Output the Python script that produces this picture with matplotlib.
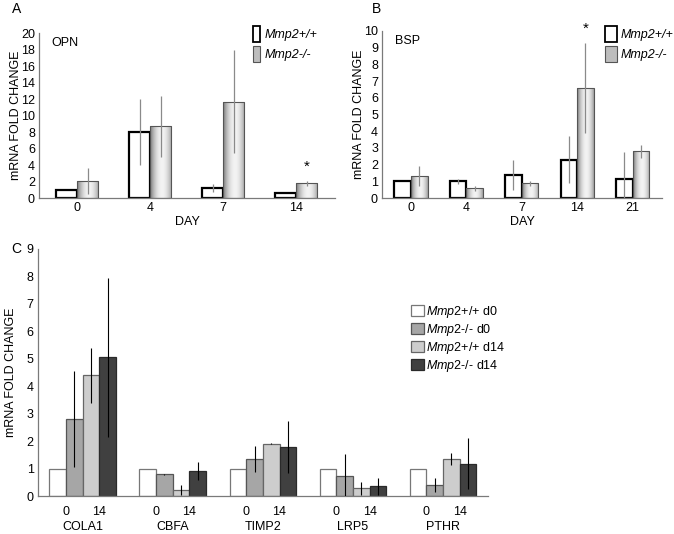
#Plot Mmp2 qPCR fold changes (OPN, BSP, marker panel)

import numpy as np
import matplotlib
matplotlib.use("Agg")
import matplotlib.pyplot as plt
from matplotlib.patches import Patch

plt.rcParams['font.family'] = 'Liberation Sans'
plt.rcParams['font.size'] = 9
plt.rcParams['mathtext.fontset'] = 'custom'
plt.rcParams['mathtext.it'] = 'Liberation Sans:italic'
plt.rcParams['mathtext.rm'] = 'Liberation Sans'

#panel A - OPN
opn_days = ['0', '4', '7', '14']
opn_wt = [1.0, 8.0, 1.2, 0.6]
opn_wt_err = [0, 4.0, 0.5, 0]
opn_ko = [2.1, 8.7, 11.7, 1.8]
opn_ko_err = [1.6, 3.7, 6.2, 0.3]
opn_star = [False, False, False, True]

#panel B - BSP
bsp_days = ['0', '4', '7', '14', '21']
bsp_wt = [1.0, 1.0, 1.4, 2.3, 1.15]
bsp_wt_err = [0, 0.15, 0.9, 1.4, 1.6]
bsp_ko = [1.35, 0.6, 0.9, 6.6, 2.8]
bsp_ko_err = [0.6, 0.15, 0.15, 2.7, 0.4]
bsp_star = [False, False, False, True, False]

#panel C - marker genes
genes = ['COLA1', 'CBFA', 'TIMP2', 'LRP5', 'PTHR']
wt_d0 = [1.0, 1.0, 1.0, 1.0, 1.0]
wt_d0_err = [0, 0, 0, 0, 0]
ko_d0 = [2.8, 0.8, 1.35, 0.72, 0.4]
ko_d0_err = [1.75, 0.02, 0.47, 0.8, 0.25]
wt_d14 = [4.4, 0.22, 1.9, 0.28, 1.34]
wt_d14_err = [1.0, 0.17, 0.02, 0.25, 0.22]
ko_d14 = [5.05, 0.92, 1.8, 0.35, 1.18]
ko_d14_err = [2.9, 0.32, 0.95, 0.3, 0.94]
c_labels = ['$\\mathit{Mmp2{+}/{+}}$ d0', '$\\mathit{Mmp2\u2010/\u2010}$ d0',
            '$\\mathit{Mmp2{+}/{+}}$ d14', '$\\mathit{Mmp2\u2010/\u2010}$ d14']
c_colors = ['white', '#a6a6a6', '#cdcdcd', '#404040']

fig = plt.figure(figsize=(6.74, 5.34), dpi=100)

t = np.linspace(0, 1, 64)
shade = 0.55 + 0.40 * (1 - (2 * t - 1.1) ** 2)


def style_axis(ax):
    for s in ['top', 'right']:
        ax.spines[s].set_visible(False)
    for s in ['left', 'bottom']:
        ax.spines[s].set_color('#7a7a7a')
        ax.spines[s].set_linewidth(0.9)
    ax.tick_params(length=0, pad=3)


def day_panel(ax, days, wt, wt_err, ko, ko_err, star, width, ymax, yticks, name, name_x, lab_x):
    x = np.arange(len(days))
    ax.bar(x - width / 2, wt, width, color='white', edgecolor='black', linewidth=1.6, zorder=2)
    kb = ax.bar(x + width / 2, ko, width, color='none', edgecolor='#555555', linewidth=0.8, zorder=3)
    for r in kb:
        img = ax.imshow(shade[None, :], cmap='gray', vmin=0, vmax=1, aspect='auto',
                        interpolation='bilinear',
                        extent=[r.get_x(), r.get_x() + r.get_width(), 0, r.get_height()], zorder=2)
        img.set_clip_path(r)
    ax.errorbar(x - width / 2, wt, yerr=wt_err, fmt='none', ecolor='#8a8a8a', elinewidth=0.9, zorder=4)
    ax.errorbar(x + width / 2, ko, yerr=ko_err, fmt='none', ecolor='#8a8a8a', elinewidth=0.9, zorder=4)
    for i in range(len(days)):
        if star[i]:
            ax.annotate('*', (x[i] + width / 2, ko[i] + ko_err[i]), xytext=(0, 5),
                        textcoords='offset points', ha='center', va='bottom', fontsize=11)
    ax.set_xticks(x)
    ax.set_xticklabels(days)
    ax.set_yticks(yticks)
    ax.set_ylim(0, ymax)
    ax.set_xlim(-0.52, len(days) - 0.47)
    ax.set_xlabel('DAY', labelpad=1)
    ax.set_ylabel('mRNA FOLD CHANGE')
    ax.yaxis.set_label_coords(lab_x, 0.5)
    ax.text(name_x, 0.975, name, transform=ax.transAxes, va='top')
    style_axis(ax)
    handles = [Patch(facecolor='white', edgecolor='black', linewidth=1.3),
               Patch(facecolor='#bdbdbd', edgecolor='#555555', linewidth=0.8)]
    return handles


axA = fig.add_axes([0.058, 0.629, 0.439, 0.309])
hA = day_panel(axA, opn_days, opn_wt, opn_wt_err, opn_ko, opn_ko_err, opn_star,
               0.29, 20, np.arange(0, 21, 2), 'OPN', 0.04, -0.057)
axA.legend(hA, ['Mmp2+/+', 'Mmp2-/-'], loc='upper left', bbox_to_anchor=(253 / 674, 1 - 26 / 534),
           bbox_transform=fig.transFigure, frameon=False, borderpad=0, borderaxespad=0,
           handlelength=0.55, handleheight=1.6, labelspacing=0.3, handletextpad=0.4,
           prop={'style': 'italic', 'size': 9})

axB = fig.add_axes([0.567, 0.629, 0.415, 0.313])
hB = day_panel(axB, bsp_days, bsp_wt, bsp_wt_err, bsp_ko, bsp_ko_err, bsp_star,
               0.30, 10, np.arange(0, 11, 1), 'BSP', 0.045, -0.061)
axB.legend(hB, ['Mmp2+/+', 'Mmp2-/-'], loc='upper left', bbox_to_anchor=(605 / 674, 1 - 26 / 534),
           bbox_transform=fig.transFigure, frameon=False, borderpad=0, borderaxespad=0,
           handlelength=0.95, handleheight=1.6, labelspacing=0.3, handletextpad=0.3,
           prop={'style': 'italic', 'size': 9})

#panel C
axC = fig.add_axes([0.056, 0.071, 0.668, 0.463])
xc = np.arange(len(genes))
w = 0.185
series = [(wt_d0, wt_d0_err), (ko_d0, ko_d0_err), (wt_d14, wt_d14_err), (ko_d14, ko_d14_err)]
edges = ['#777777', '#555555', '#666666', '#2a2a2a']
for k, (vals, err) in enumerate(series):
    pos = xc + (k - 1.5) * w
    axC.bar(pos, vals, w, color=c_colors[k], edgecolor=edges[k], linewidth=0.9,
            label=c_labels[k], zorder=2)
    axC.errorbar(pos, vals, yerr=err, fmt='none', ecolor='black', elinewidth=0.8, zorder=3)
axC.set_ylim(0, 9)
axC.set_yticks(np.arange(0, 10, 1))
axC.set_xlim(-0.5, len(genes) - 0.5)
axC.set_xticks(np.concatenate([xc - w, xc + w]))
axC.set_xticklabels(['0'] * len(genes) + ['14'] * len(genes))
axC.set_xticks(xc, minor=True)
axC.set_xticklabels(genes, minor=True)
style_axis(axC)
axC.tick_params(axis='x', which='major', pad=7)
axC.tick_params(axis='x', which='minor', length=0, pad=18)
axC.set_ylabel('mRNA FOLD CHANGE')
axC.yaxis.set_label_coords(-0.047, 0.5)
axC.legend(loc='upper left', bbox_to_anchor=(411 / 674, 1 - 304 / 534), bbox_transform=fig.transFigure,
           frameon=False, borderpad=0, borderaxespad=0, handlelength=1.0, handleheight=1.0,
           labelspacing=0.15, handletextpad=0.2, fontsize=9)

fig.text(12 / 674, 1 - 9 / 534, 'A', fontsize=10, va='center')
fig.text(372 / 674, 1 - 9 / 534, 'B', fontsize=10, va='center')
fig.text(11 / 674, 1 - 249 / 534, 'C', fontsize=10, va='center')

fig.savefig('out.png', dpi=100)
